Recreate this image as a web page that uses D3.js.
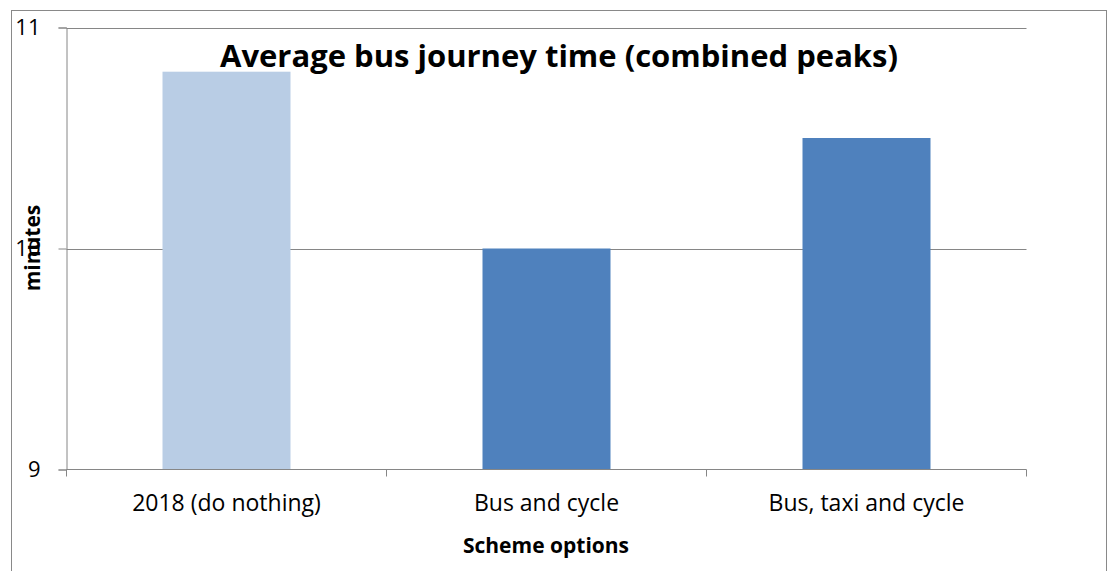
<!DOCTYPE html>
<html>
<head>
<meta charset="utf-8">
<script src="https://cdn.jsdelivr.net/npm/d3@7"></script>
<style>
  body { margin: 0; background: #fff; }
  svg text { font-family: "Open Sans", "Noto Sans", sans-serif; fill: #000; }
</style>
</head>
<body>
<svg id="viz"></svg>
<script>
// ----------------------------------------------------------------------------------------------------------------
// DATA

var categories = ["2018 (do nothing)", "Bus and cycle", "Bus, taxi and cycle"];
var values = [10.8, 10.0, 10.5];
var barColours = ["#b9cde5", "#4f81bd", "#4f81bd"];
var yTicks = [9, 10, 11];

// ----------------------------------------------------------------------------------------------------------------
// SETUP

var w = 1112;
var h = 571;
var viz = d3.select("#viz").attr("width", w).attr("height", h);

var plot = {left: 66.5, right: 1026.5, top: 27.5, bottom: 469.5};

var x = d3.scaleBand()
  .domain(categories)
  .range([plot.left, plot.right])
  .paddingInner(0.6)
  .paddingOuter(0.3);

var y = d3.scaleLinear()
  .domain([9, 11])
  .range([plot.bottom, plot.top]);

// outer chart border
viz.append("rect")
  .attr("x", 11.5).attr("y", 10.5)
  .attr("width", 1095).attr("height", 600)
  .attr("fill", "none")
  .attr("stroke", "#898989")
  .attr("stroke-width", 1);

// gridlines
viz.append("g")
  .selectAll("line")
  .data(yTicks.slice(1))
  .enter()
  .append("line")
  .attr("x1", plot.left).attr("x2", plot.right)
  .attr("y1", function(d) { return Math.round(y(d)) + 0.5; })
  .attr("y2", function(d) { return Math.round(y(d)) + 0.5; })
  .attr("stroke", "#868686");

// bars
viz.selectAll("rect.bar")
  .data(values)
  .enter()
  .append("rect")
  .attr("class", "bar")
  .attr("x", function(d, i) { return x(categories[i]); })
  .attr("width", x.bandwidth())
  .attr("y", function(d) { return y(d); })
  .attr("height", function(d) { return y(9) - y(d); })
  .attr("fill", function(d, i) { return barColours[i]; });

// y axis
var yAxis = d3.axisLeft(y).tickValues(yTicks).tickSize(8).tickPadding(18).tickFormat(d3.format("d"));
var gy = viz.append("g").attr("transform", "translate(" + plot.left + ",0)").call(yAxis);
gy.select(".domain").attr("stroke", "#868686");
gy.selectAll(".tick line").attr("stroke", "#868686");
gy.selectAll(".tick text")
  .attr("font-size", "22px")
  .style("font-family", "'Open Sans', sans-serif");

// x axis
var xTickPos = [plot.left, plot.left + 320, plot.left + 640, plot.right];
var gx = viz.append("g");
gx.append("line")
  .attr("x1", plot.left).attr("x2", plot.right)
  .attr("y1", plot.bottom).attr("y2", plot.bottom)
  .attr("stroke", "#868686");
gx.selectAll("line.tk")
  .data(xTickPos)
  .enter()
  .append("line")
  .attr("class", "tk")
  .attr("x1", function(d) { return d; }).attr("x2", function(d) { return d; })
  .attr("y1", plot.bottom).attr("y2", plot.bottom + 7)
  .attr("stroke", "#868686");
gx.selectAll("text")
  .data(categories)
  .enter()
  .append("text")
  .attr("x", function(d) { return x(d) + x.bandwidth() / 2; })
  .attr("y", 511)
  .attr("text-anchor", "middle")
  .attr("font-size", "23px")
  .text(function(d) { return d; });

// titles
viz.append("text")
  .attr("x", 559).attr("y", 67)
  .attr("text-anchor", "middle")
  .attr("font-size", "31px")
  .attr("font-weight", "bold")
  .text("Average bus journey time (combined peaks)");

viz.append("text")
  .attr("x", 546).attr("y", 553)
  .attr("text-anchor", "middle")
  .attr("font-size", "21px")
  .attr("font-weight", "bold")
  .text("Scheme options");

viz.append("text")
  .attr("transform", "translate(40,248) rotate(-90)")
  .attr("text-anchor", "middle")
  .attr("font-size", "21px")
  .attr("font-weight", "bold")
  .text("minutes");
</script>
</body>
</html>
